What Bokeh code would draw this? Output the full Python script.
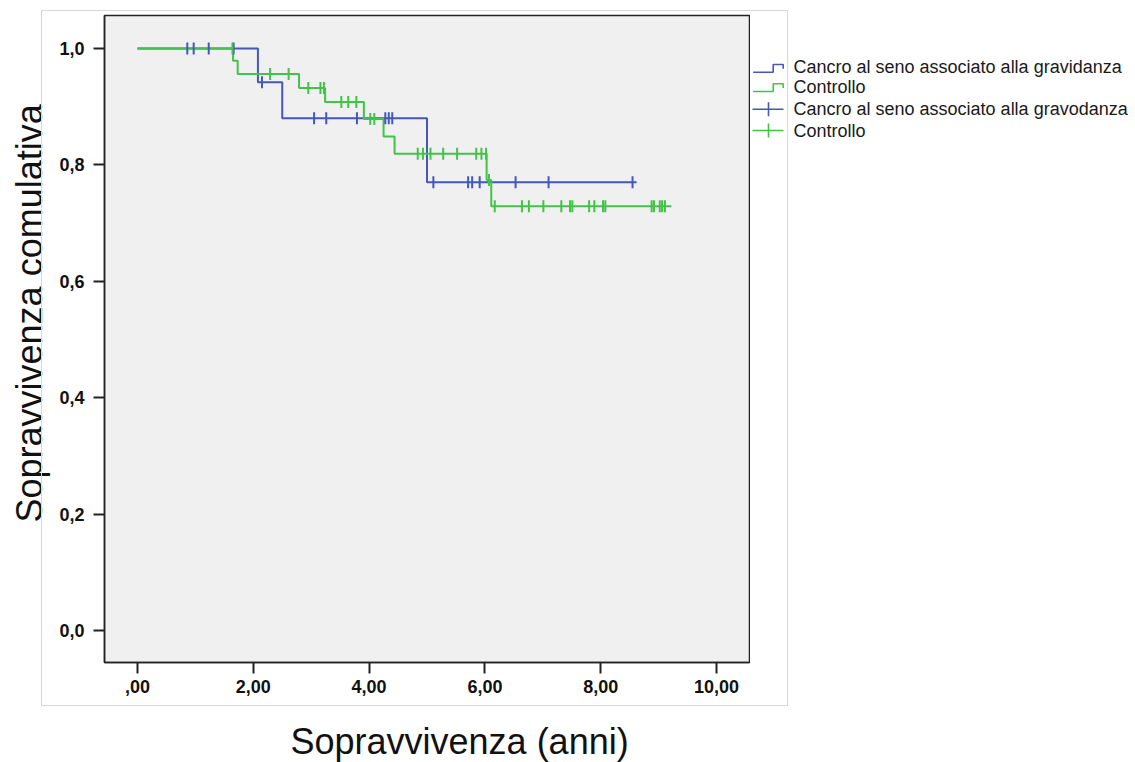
import numpy as np
from bokeh.plotting import figure
from bokeh.layouts import row
from bokeh.models import Range1d, FixedTicker, Title, InlineStyleSheet
from bokeh.core.properties import value
from bokeh.embed import file_html
from bokeh.resources import INLINE

# ---------------- data ----------------
x_ticks = [0, 2, 4, 6, 8, 10]
x_tick_labels = [",00", "2,00", "4,00", "6,00", "8,00", "10,00"]
y_ticks = [0, 0.2, 0.4, 0.6, 0.8, 1]
y_tick_labels = ["0,0", "0,2", "0,4", "0,6", "0,8", "1,0"]

# Pregnancy-associated breast cancer (blue)
blue_times = [0.0, 2.08, 2.50, 5.00]
blue_surv = [1.0, 0.942, 0.880, 0.770]
blue_end = 8.62
blue_censor = [0.86, 0.97, 1.23, 1.66, 2.15, 3.05, 3.26, 3.79, 4.28, 4.34,
               4.40, 5.11, 5.71, 5.78, 5.91, 6.53, 7.10, 8.55]

# Control (green)
green_times = [0.0, 1.65, 1.73, 2.79, 3.24, 3.91, 4.25, 4.44, 6.03, 6.11]
green_surv = [1.0, 0.979, 0.956, 0.932, 0.908, 0.879, 0.849, 0.819, 0.774, 0.729]
green_end = 9.22
green_censor = [1.64, 2.29, 2.61, 2.95, 3.16, 3.22, 3.52, 3.64, 3.78, 4.02,
                4.09, 4.84, 4.93, 5.06, 5.28, 5.52, 5.85, 5.94, 6.02, 6.07,
                6.17, 6.64, 6.76, 7.01, 7.32, 7.47, 7.51, 7.80, 7.89, 8.04,
                8.08, 8.88, 8.92, 9.02, 9.06, 9.11]

legend_labels = ["Cancro al seno associato alla gravidanza", "Controllo",
                 "Cancro al seno associato alla gravodanza", "Controllo"]
x_title = "Sopravvivenza (anni)"
y_title = "Sopravvivenza comulativa"

BLUE = "#4358b8"
GREEN = "#43c24a"
FONT = "Liberation Sans"

# ---------------- layout (pixels) ----------------
FL, FR, FT, FB = 104, 749, 15, 662
X0, X1 = -0.57, 10.57
Y0, Y1 = -0.055, 1.0567
W1, H = 750, 762
W2 = 380


def surv_at(times, surv, ts):
    t = np.asarray(times)
    s = np.asarray(surv)
    idx = np.searchsorted(t, np.asarray(ts), side="right") - 1
    return s[idx]


p = figure(width=W1, height=H, x_range=Range1d(X0, X1), y_range=Range1d(Y0, Y1),
           output_backend="svg", toolbar_location=None,
           min_border_left=FL, min_border_right=W1 - FR,
           min_border_top=FT, min_border_bottom=H - FB)
p.background_fill_color = "#f0f0f0"
p.border_fill_color = "white"
p.outline_line_color = "#222222"
p.outline_line_width = 1.5
p.grid.visible = False

p.xaxis.ticker = FixedTicker(ticks=x_ticks)
p.xaxis.major_label_overrides = {t: l for t, l in zip(x_ticks, x_tick_labels)}
p.yaxis.ticker = FixedTicker(ticks=y_ticks)
p.yaxis.major_label_overrides = {t: l for t, l in zip(y_ticks, y_tick_labels)}
for ax in (p.xaxis[0], p.yaxis[0]):
    ax.major_tick_out = 11
    ax.major_tick_in = 0
    ax.minor_tick_line_color = None
    ax.major_tick_line_color = "#222222"
    ax.major_tick_line_width = 2
    ax.axis_line_color = "#222222"
    ax.axis_line_width = 1.5
    ax.major_label_text_font = FONT
    ax.major_label_text_font_size = "18px"
    ax.major_label_text_font_style = "bold"
    ax.major_label_text_color = "#111111"
p.yaxis[0].major_label_standoff = 9
p.xaxis[0].major_label_standoff = 6

# ---------------- curves ----------------
bx = list(blue_times) + [blue_end]
by = list(blue_surv) + [blue_surv[-1]]
gx = list(green_times) + [green_end]
gy = list(green_surv) + [green_surv[-1]]

p.step(bx, by, mode="after", line_color=BLUE, line_width=2)
p.step(gx, gy, mode="after", line_color=GREEN, line_width=2)

p.scatter(blue_censor, surv_at(blue_times, blue_surv, blue_censor), marker="dash",
          angle=np.pi / 2, size=12, line_color=BLUE, line_width=2)
p.scatter(green_censor, surv_at(green_times, green_surv, green_censor), marker="dash",
          angle=np.pi / 2, size=12, line_color=GREEN, line_width=2)

# ---------------- axis titles ----------------
# small spacer panel between the x axis and its title
p.add_layout(Title(text=" ", standoff=18, text_font=FONT, text_font_size="2px",
                   text_font_style="normal"), "below")
p.add_layout(Title(text=x_title, align="left", offset=290 - FL, standoff=2,
                   text_font=FONT, text_font_size="36px", text_font_style="normal",
                   text_color="#111111"), "below")
p.add_layout(Title(text=y_title, align="left", offset=FB - 522, standoff=13,
                   text_font=FONT, text_font_size="36px", text_font_style="normal",
                   text_color="#111111"), "left")

# ---------------- legend (separate panel on the right) ----------------
# its frame is aligned with the main frame; y is mapped in page pixels
q = figure(width=W2, height=H, x_range=Range1d(W1, W1 + W2), y_range=Range1d(FB, FT),
           output_backend="svg", toolbar_location=None, x_axis_type=None,
           y_axis_type=None, min_border_left=0, min_border_right=0,
           min_border_top=FT, min_border_bottom=H - FB)
q.outline_line_color = None
q.grid.visible = False
q.background_fill_color = "white"
q.border_fill_color = "white"

row_y = [66.7, 86.0, 108.8, 130.0]
colors = [BLUE, GREEN, BLUE, GREEN]
for i, (col, ry) in enumerate(zip(colors, row_y)):
    if i < 2:
        lo, hi = ry + 5, ry - 2.7
        q.line([752.7, 772.7, 772.7, 782.7, 782.7], [lo, lo, hi, hi, ry + 1.6],
               line_color=col, line_width=1.6)
    else:
        q.line([752, 783], [ry, ry], line_color=col, line_width=1.6)
        q.line([768, 768], [ry - 7, ry + 7], line_color=col, line_width=1.6)
q.text(x=[793] * 4, y=row_y, text=legend_labels, text_align="left",
       text_baseline="middle", text_font=value(FONT),
       text_font_size=value("18px"), text_color="#1a1a1a")

border_css = InlineStyleSheet(css="""
:host { position: relative; }
:host::after { content: ""; position: absolute; left: 41px; top: 10px;
  width: 747px; height: 696px; border: 1px solid #d6d6d6;
  pointer-events: none; box-sizing: border-box; }
""")

layout = row(p, q, spacing=0, stylesheets=[border_css])
open("out.html", "w").write(file_html(layout, INLINE))
